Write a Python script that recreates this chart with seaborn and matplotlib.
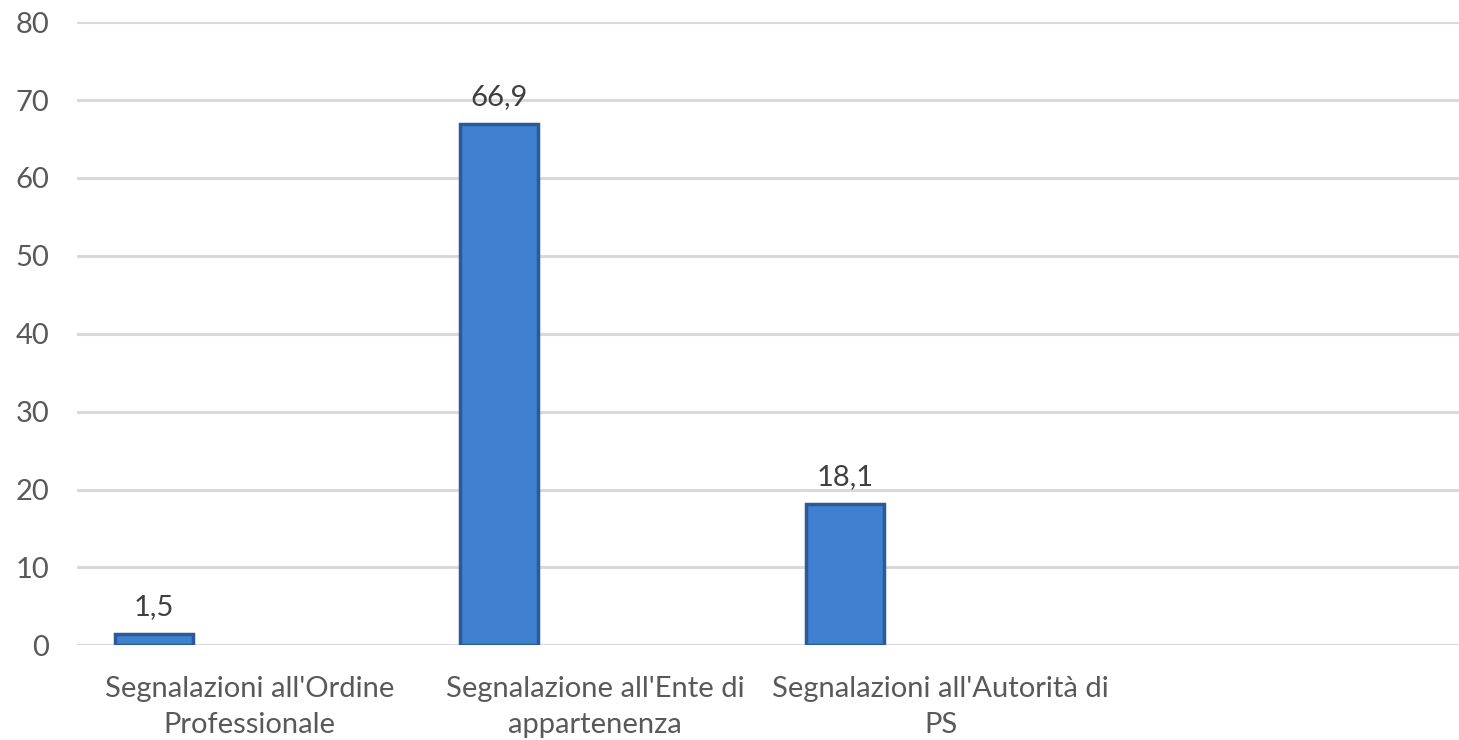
import matplotlib
matplotlib.use("Agg")
import numpy as np
import pandas as pd
import seaborn as sns
from matplotlib import pyplot as plt

# chart values
CATEGORIES = ["Segnalazioni all'Ordine\nProfessionale",
              "Segnalazione all'Ente di\nappartenenza",
              "Segnalazioni all'Autorità di\nPS",
              ""]
VALUES = [1.5, 66.9, 18.1, np.nan]
SERIES = ["Serie 1", "Serie 2", "Serie 3"]
Y_TICKS = [0, 10, 20, 30, 40, 50, 60, 70, 80]

TEXT_GREY = "#595959"
GRID_GREY = "#d9d9d9"

rows = []
for cat, val in zip(CATEGORIES, VALUES):
    for s in SERIES:
        rows.append({"categoria": cat, "serie": s, "valore": val if s == SERIES[0] else np.nan})
df = pd.DataFrame(rows)

sns.set_style("white")
plt.rcParams["font.family"] = ["Lato", "DejaVu Sans"]

fig = plt.figure(figsize=(14.59, 7.40), dpi=100)
ax = fig.add_axes([0.0528, 0.128, 0.9472, 0.842])

sns.barplot(data=df, x="categoria", y="valore", hue="serie",
            order=CATEGORIES, hue_order=SERIES,
            palette=["#3f80d0", "#3f80d0", "#3f80d0"],
            width=0.834, gap=0.19, legend=False,
            edgecolor="#2a5a98", linewidth=2.5, saturation=1, ax=ax)

# data labels above the first series bars
for patch, v in zip(ax.containers[0], VALUES):
    if patch is None or np.isnan(v):
        continue
    ax.annotate(("%.1f" % v).replace(".", ","),
                xy=(patch.get_x() + patch.get_width() / 2, patch.get_height()),
                xytext=(0, 10), textcoords="offset points",
                ha="center", va="bottom", fontsize=21, color="#404040")

ax.set_ylim(0, 80)
ax.set_xlim(-0.5, len(CATEGORIES) - 0.5)
ax.set_yticks(Y_TICKS)
ax.yaxis.grid(True, color=GRID_GREY, linewidth=2.2)
ax.set_axisbelow(True)
for sp in ax.spines.values():
    sp.set_visible(False)
ax.tick_params(axis="both", length=0, labelsize=21, colors=TEXT_GREY)
ax.tick_params(axis="y", pad=20)
ax.tick_params(axis="x", pad=22)
plt.setp(ax.get_xticklabels(), linespacing=1.5)
ax.set_xlabel("")
ax.set_ylabel("")

fig.savefig("out.png", dpi=100)
